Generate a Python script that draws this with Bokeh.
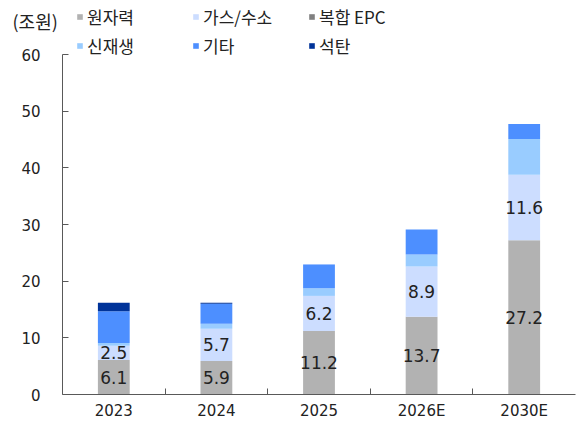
from bokeh.plotting import figure
from bokeh.models import (ColumnDataSource, Range1d, FixedTicker, Legend, LegendItem,
                          LabelSet, Label)
from bokeh.core.properties import value
from bokeh.embed import file_html
from bokeh.resources import INLINE

years = ["2023", "2024", "2025", "2026E", "2030E"]
nuclear = [6.1, 5.9, 11.2, 13.7, 27.2]
gas_h2 = [2.5, 5.7, 6.2, 8.9, 11.6]
epc = [0.0, 0.0, 0.0, 0.0, 0.0]
renew = [0.5, 0.9, 1.35, 2.1, 6.3]
other = [5.6, 3.5, 4.2, 4.4, 2.65]
coal = [1.5, 0.2, 0.0, 0.0, 0.0]

series = ["원자력", "가스/수소", "복합 EPC", "신재생", "기타", "석탄"]
colors = ["#B2B2B2", "#CCDDFF", "#808080", "#99CCFF", "#4D8FFF", "#003399"]
y_ticks = [0, 10, 20, 30, 40, 50, 60]
unit_label = "(조원)"

FONT = "DejaVu Sans"
KFONT = "Noto Sans CJK KR"
W, H = 579, 426
AXIS_BOTTOM = 394       # pixel row of y = 0
AXIS_TOP = 54           # pixel row of y = 60
AXIS_LEFT = 62          # pixel column of the y axis
AXIS_RIGHT = 575
n = len(years)
xs = list(range(n))
keys = ["s%d" % i for i in range(len(series))]
src = ColumnDataSource(dict(x=xs, **{k: v for k, v in zip(keys, [nuclear, gas_h2, epc, renew, other, coal])}))

# the frame covers the whole canvas; both axes are drawn at fixed places inside it
upp = (y_ticks[-1] - y_ticks[0]) / (AXIS_BOTTOM - AXIS_TOP)   # data units per pixel
y_top = y_ticks[-1] + AXIS_TOP * upp
y_bot = y_ticks[0] - (H - AXIS_BOTTOM) * upp
xpp = n / (AXIS_RIGHT - AXIS_LEFT)
x_left = -0.5 - AXIS_LEFT * xpp
x_right = n - 0.5 + (W - AXIS_RIGHT) * xpp
p = figure(width=W, height=H, output_backend="svg", toolbar_location=None,
           x_range=Range1d(x_left, x_right), y_range=Range1d(y_bot, y_top),
           min_border=0)
p.outline_line_color = None
p.xgrid.visible = False
p.ygrid.visible = False

rs = p.vbar_stack(keys, x="x", width=0.31, source=src, color=colors, line_color=None)

lab_src = ColumnDataSource(dict(
    x=xs + xs,
    y=[v / 2 for v in nuclear] + [a + g / 2 for a, g in zip(nuclear, gas_h2)],
    t=["%.1f" % v for v in nuclear] + ["%.1f" % v for v in gas_h2],
))
p.add_layout(LabelSet(x="x", y="y", text="t", source=lab_src, text_align="center",
                      text_baseline="middle", text_font_size="17px", text_color="#222222",
                      text_font=value(FONT)))

ax = p.xaxis[0]
ax.fixed_location = y_ticks[0]
ax.ticker = FixedTicker(ticks=xs, minor_ticks=[i + 0.5 for i in xs[:-1]])
ax.bounds = (-0.5, n - 0.5)
ax.major_label_overrides = {i: y for i, y in enumerate(years)}
ax.major_tick_in = 0
ax.major_tick_out = 0
ax.minor_tick_in = 6
ax.minor_tick_out = 0
ax.axis_line_color = "#595959"
ax.minor_tick_line_color = "#595959"
ax.major_label_standoff = 7
ax.major_label_text_font_size = "15px"
ax.major_label_text_font = FONT
ax.major_label_text_color = "#222222"

ay = p.yaxis[0]
ay.fixed_location = -0.5
ay.ticker = FixedTicker(ticks=y_ticks, minor_ticks=[])
ay.bounds = (y_ticks[0], y_ticks[-1])
ay.major_tick_in = 6
ay.major_tick_out = 0
ay.minor_tick_line_color = None
ay.axis_line_color = "#595959"
ay.major_tick_line_color = "#595959"
ay.major_label_standoff = 22
ay.major_label_text_font_size = "15px"
ay.major_label_text_font = FONT
ay.major_label_text_color = "#222222"

items = [LegendItem(label=s, renderers=[r]) for s, r in zip(series, rs)]
leg = Legend(items=items, location=(76, H - 58), orientation="horizontal", ncols=3,
             glyph_width=7, glyph_height=7, label_standoff=4, label_width=101,
             label_height=20, spacing=4, padding=0, margin=0,
             border_line_alpha=0, background_fill_alpha=0,
             label_text_font_size="17px", label_text_font=KFONT, label_text_color="#222222")
p.add_layout(leg, "center")

p.add_layout(Label(x=12, y=H - 20, x_units="screen", y_units="screen",
                   text=unit_label, text_font_size="18px", text_font=KFONT,
                   text_color="#222222", text_baseline="middle"))

open("out.html", "w").write(file_html(p, INLINE))
